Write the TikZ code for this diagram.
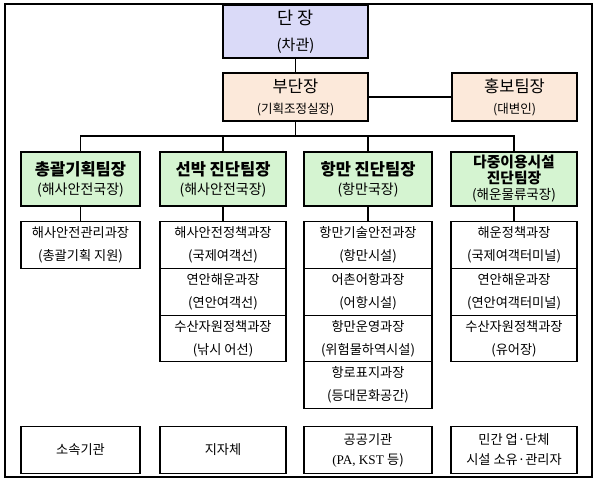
\documentclass[tikz,border=0pt]{standalone}
\usepackage{fontspec}
\setmainfont{Noto Sans CJK KR}
\newfontfamily\latinserif{Liberation Serif}
\usetikzlibrary{positioning}
\definecolor{chiefblue}{HTML}{DADAF8}
\definecolor{deputypeach}{HTML}{FCE9DA}
\definecolor{teamgreen}{HTML}{D5F4D1}
\newcommand{\subline}[1]{{\mdseries\fontsize{14}{19}\selectfont #1}}
\newcommand{\smallline}[1]{{\fontsize{12.5}{21}\selectfont #1}}

\begin{document}
\begin{tikzpicture}[x=1pt,y=-1pt,line width=1.1pt,
  orgbox/.style={draw,inner sep=0pt,outer sep=0pt,align=center},
  topbox/.style={orgbox,minimum width=145pt,minimum height=48pt,font=\fontsize{16.5}{21}\selectfont},
  teambox/.style={orgbox,fill=teamgreen,minimum height=54pt,font=\bfseries\fontsize{16.5}{19}\selectfont},
  unitbox/.style={orgbox,minimum height=46.7pt,font=\fontsize{13.2}{23}\selectfont}]
\useasboundingbox (0,0) rectangle (600,481);
\draw[line width=1.4pt] (5,4) rectangle (592,477);

\node[topbox,fill=chiefblue,minimum height=53pt,font=\fontsize{17.5}{26}\selectfont] (chief) at (295.5,31.5)
  {단 장\\{\fontsize{15}{26}\selectfont(차관)}};
\node[topbox,fill=deputypeach] (deputy) at (295.5,97) {부단장\\\smallline{(기획조정실장)}};
\node[topbox,fill=deputypeach,minimum width=125pt] (pr) at (514.5,97) {홍보팀장\\\smallline{(대변인)}};

\node[teambox,minimum width=119pt] (plan) at (80.5,179) {총괄기획팀장\\\subline{(해사안전국장)}};
\node[teambox,minimum width=126pt] (ship) at (223,179) {선박 진단팀장\\\subline{(해사안전국장)}};
\node[teambox,minimum width=128pt] (port) at (368,179) {항만 진단팀장\\\subline{(항만국장)}};
\node[teambox,minimum width=126pt,font=\bfseries\fontsize{14.8}{16}\selectfont] (multi) at (514,179)
  {다중이용시설\\진단팀장\\{\mdseries\fontsize{13.5}{16}\selectfont(해운물류국장)}};

\node[unitbox,minimum width=119pt] (plan1) at (80.5,245) {해사안전관리과장\\(총괄기획 지원)};

\node[unitbox,minimum width=126pt] (ship1) at (223,245) {해사안전정책과장\\(국제여객선)};
\node[unitbox,minimum width=126pt,below=0pt of ship1] (ship2) {연안해운과장\\(연안여객선)};
\node[unitbox,minimum width=126pt,below=0pt of ship2] (ship3) {수산자원정책과장\\(낚시 어선)};

\node[unitbox,minimum width=128pt] (port1) at (368,245) {항만기술안전과장\\(항만시설)};
\node[unitbox,minimum width=128pt,below=0pt of port1] (port2) {어촌어항과장\\(어항시설)};
\node[unitbox,minimum width=128pt,below=0pt of port2] (port3) {항만운영과장\\(위험물하역시설)};
\node[unitbox,minimum width=128pt,below=0pt of port3] (port4) {항로표지과장\\(등대문화공간)};

\node[unitbox,minimum width=126pt] (multi1) at (514,245) {해운정책과장\\(국제여객터미널)};
\node[unitbox,minimum width=126pt,below=0pt of multi1] (multi2) {연안해운과장\\(연안여객터미널)};
\node[unitbox,minimum width=126pt,below=0pt of multi2] (multi3) {수산자원정책과장\\(유어장)};

\node[unitbox,minimum width=119pt] (agency) at (80.5,450) {소속기관};
\node[unitbox,minimum width=126pt] (local) at (223,450) {지자체};
\node[unitbox,minimum width=128pt,font=\fontsize{13.2}{20}\selectfont] (public) at (368,450)
  {공공기관\\{\latinserif (PA, KST }등)};
\node[unitbox,minimum width=126pt,font=\fontsize{13.2}{20}\selectfont] (private) at (514,450)
  {민간 업·단체\\시설 소유·관리자};

\coordinate (bus) at (295.5,136);
\draw (chief) -- (deputy);
\draw (deputy) -- (pr);
\draw (deputy) -- (bus);
\foreach \t in {plan,ship,port,multi}
  \draw (bus) -| (\t.north);
\foreach \t in {plan,ship,port,multi}
  \draw (\t) -- (\t1);
\end{tikzpicture}
\end{document}
